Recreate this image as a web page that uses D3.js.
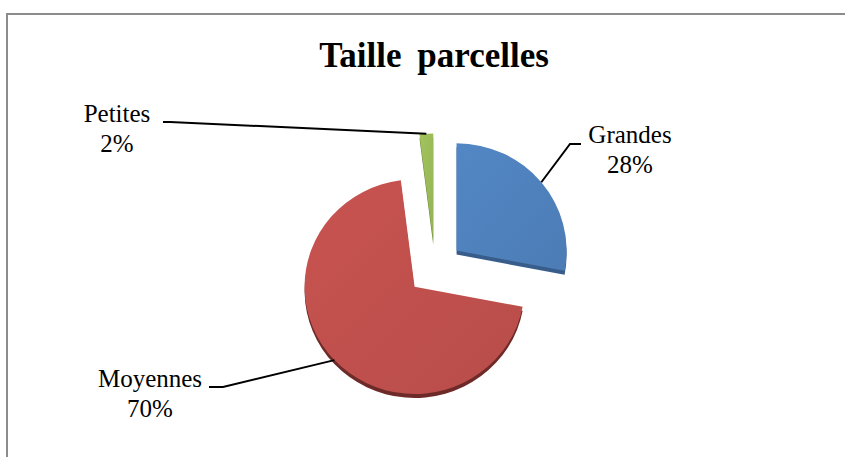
<!DOCTYPE html>
<html>
<head>
<meta charset="utf-8">
<script src="https://cdn.jsdelivr.net/npm/d3@7"></script>
<style>
  html, body { margin: 0; padding: 0; background: #fff; }
  svg { display: block; }
  text { font-family: "Liberation Serif", "Times New Roman", serif; fill: #000; }
</style>
</head>
<body>
<svg id="chart" width="845" height="457"></svg>
<script>
// ---- data ----
const title = "Taille parcelles";
const categories = ["Grandes", "Moyennes", "Petites"];
const values = [28, 70, 2];
const percentLabels = ["28%", "70%", "2%"];
const colors = ["#4f81bd", "#c0504d", "#9bbb59"];
const sideColors = ["#385d8a", "#6e2a28", "#6f8a3c"];

// ---- layout ----
const W = 845, H = 457;
const cx = 435, cy = 268;      // pie base centre
const rx = 110, sy = 0.975;    // radius and vertical squash
const depth = 4;               // 3D thickness
const explode = 28;
const labelPos = [
  { x: 630, y: 143, lx: 581, ly: 144, kx: 570, ky: 144 },   // Grandes
  { x: 150, y: 387, lx: 209, ly: 387, kx: 223, ky: 387 },   // Moyennes
  { x: 117, y: 122, lx: 163, ly: 122, kx: 170, ky: 122 }    // Petites
];

const svg = d3.select("#chart");

// chart border (top + left visible)
svg.append("rect")
  .attr("x", 7).attr("y", 14)
  .attr("width", W + 20).attr("height", H + 20)
  .attr("fill", "#fff")
  .attr("stroke", "#8c8c8c").attr("stroke-width", 2);

svg.append("text")
  .attr("x", cx - 1).attr("y", 67)
  .attr("text-anchor", "middle")
  .attr("font-size", 35).attr("font-weight", "bold")
  .attr("word-spacing", 7)
  .text(title);

const defs = svg.append("defs");
colors.forEach((c, i) => {
  const g = defs.append("linearGradient").attr("id", "g" + i)
    .attr("x1", "0%").attr("y1", "0%").attr("x2", "100%").attr("y2", "100%");
  g.append("stop").attr("offset", "0%").attr("stop-color", d3.color(c).brighter(0.12));
  g.append("stop").attr("offset", "100%").attr("stop-color", d3.color(c).darker(0.12));
});

const pie = d3.pie().sort(null).startAngle(0).endAngle(2 * Math.PI).value(d => d);
const arcs = pie(values);
const arc = d3.arc().innerRadius(0).outerRadius(rx);

function sliceCenter(a) {
  const m = (a.startAngle + a.endAngle) / 2;
  return [cx + explode * Math.sin(m), cy - explode * Math.cos(m) * sy];
}

// sides (depth)
arcs.forEach((a, i) => {
  const [x, y] = sliceCenter(a);
  svg.append("path")
    .attr("transform", `translate(${x},${y + depth}) scale(1,${sy})`)
    .attr("d", arc(a))
    .attr("fill", sideColors[i]);
});
// tops
arcs.forEach((a, i) => {
  const [x, y] = sliceCenter(a);
  svg.append("path")
    .attr("transform", `translate(${x},${y}) scale(1,${sy})`)
    .attr("d", arc(a))
    .attr("fill", `url(#g${i})`);
});

// leader lines + labels
arcs.forEach((a, i) => {
  const [x, y] = sliceCenter(a);
  const m = (a.startAngle + a.endAngle) / 2;
  const px = x + rx * Math.sin(m), py = y - rx * Math.cos(m) * sy;
  const p = labelPos[i];
  svg.append("polyline")
    .attr("points", `${p.lx},${p.ly} ${p.kx},${p.ky} ${px},${py}`)
    .attr("fill", "none").attr("stroke", "#000").attr("stroke-width", 2);
  const t = svg.append("text")
    .attr("x", p.x).attr("y", p.y)
    .attr("text-anchor", "middle").attr("font-size", 25);
  t.append("tspan").attr("x", p.x).text(categories[i]);
  t.append("tspan").attr("x", p.x).attr("dy", 30).text(percentLabels[i]);
});
</script>
</body>
</html>
